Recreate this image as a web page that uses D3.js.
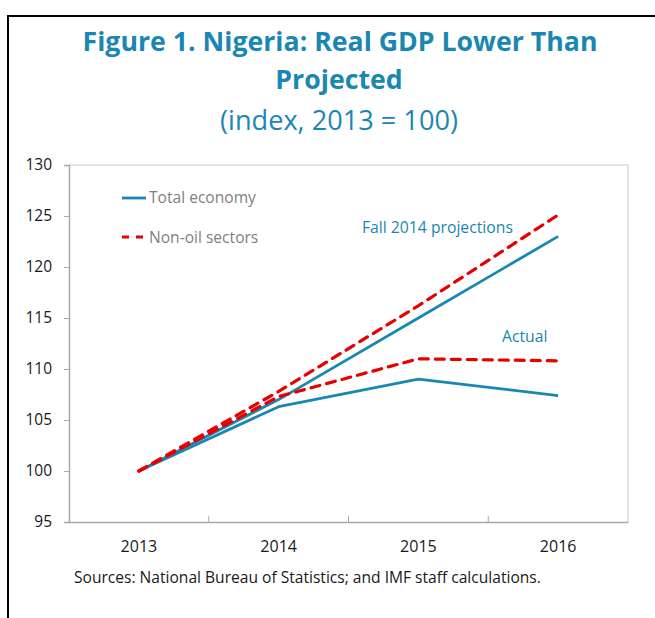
<!DOCTYPE html>
<html><head><meta charset="utf-8">
<script src="https://cdn.jsdelivr.net/npm/d3@7"></script>
<style>body{margin:0;background:#fff}svg{display:block}text{font-family:"Open Sans","Noto Sans",sans-serif}</style>
</head><body>
<svg id="c" width="655" height="618"></svg>
<script>
const years = ["2013","2014","2015","2016"];
const totalProjected = [100, 107.0, 115.0, 123.0];
const totalActual = [100, 106.3, 109.0, 107.4];
const nonOilProjected = [100, 107.8, 116.2, 125.1];
const nonOilActual = [100, 107.3, 111.0, 110.8];
const yTicks = [95,100,105,110,115,120,125,130];

const teal = "#1a87b3", red = "#e60000";
const svg = d3.select("#c");
const L=69, R=628, T=165, B=522;

// outer frame
svg.append("line").attr("x1",8).attr("x2",8).attr("y1",15).attr("y2",618).attr("stroke","#000").attr("stroke-width",2);
svg.append("line").attr("x1",7).attr("x2",655).attr("y1",16).attr("y2",16).attr("stroke","#000").attr("stroke-width",2);

function fit(sel, w){ const n=sel.node(); const cur=n.getComputedTextLength(); const fs=parseFloat(sel.attr("font-size")); sel.attr("font-size", fs*w/cur); }

const t1 = svg.append("text").attr("x",340).attr("y",51).attr("text-anchor","middle").attr("font-size",27).attr("font-weight","bold").attr("fill",teal).text("Figure 1. Nigeria: Real GDP Lower Than");
fit(t1,515);
const t2 = svg.append("text").attr("x",339).attr("y",89).attr("text-anchor","middle").attr("font-size",t1.attr("font-size")).attr("font-weight","bold").attr("fill",teal).text("Projected");
const t3 = svg.append("text").attr("x",339).attr("y",130).attr("text-anchor","middle").attr("font-size",26).attr("fill",teal).text("(index, 2013 = 100)");
fit(t3,238);

const x = d3.scaleBand().domain(years).range([L,R]);
const y = d3.scaleLinear().domain([95,130]).range([B,T]);

// frame
svg.append("line").attr("x1",L).attr("x2",R).attr("y1",T).attr("y2",T).attr("stroke","#c8c8c8");
svg.append("line").attr("x1",R).attr("x2",R).attr("y1",T).attr("y2",B).attr("stroke","#c8c8c8");

// y axis
const ya = svg.append("g").attr("transform",`translate(${L},0)`).call(d3.axisLeft(y).tickValues(yTicks).tickSize(5).tickPadding(12));
ya.select(".domain").attr("stroke","#a9a9a9").attr("stroke-width",1.5);
ya.selectAll(".tick line").attr("stroke","#a9a9a9");
ya.selectAll("text").attr("font-size",15.5).attr("fill","#1a1a1a").attr("font-family","'Open Sans',sans-serif");

// x axis
const xa = svg.append("g").attr("transform",`translate(0,${B})`).call(d3.axisBottom(x).tickSize(0).tickPadding(19));
xa.select(".domain").attr("stroke","#a9a9a9").attr("stroke-width",1.5);
xa.selectAll("text").attr("font-size",16).attr("fill","#1a1a1a").attr("font-family","'Open Sans',sans-serif");
// boundary ticks between categories (inward)
svg.append("g").selectAll("line").data(years.slice(1)).join("line")
  .attr("x1",d=>x(d)).attr("x2",d=>x(d)).attr("y1",B).attr("y2",B-6).attr("stroke","#a9a9a9");

const line = d3.line().x((d,i)=>x(years[i])+x.bandwidth()/2).y(d=>y(d));
function drawSolid(data){ svg.append("path").datum(data).attr("d",line).attr("fill","none").attr("stroke",teal).attr("stroke-width",2.8).attr("stroke-linejoin","round"); }
function drawDash(data){ svg.append("path").datum(data).attr("d",line).attr("fill","none").attr("stroke",red).attr("stroke-width",3.2).attr("stroke-dasharray","9,7").attr("stroke-linecap","round"); }
drawSolid(totalActual);
drawSolid(totalProjected);
drawDash(nonOilActual);
drawDash(nonOilProjected);

// legend
svg.append("line").attr("x1",122).attr("x2",146).attr("y1",198).attr("y2",198).attr("stroke",teal).attr("stroke-width",2.8);
const l1 = svg.append("text").attr("x",149).attr("y",203).attr("font-size",15).attr("fill","#7f7f7f").text("Total economy");
fit(l1,107);
svg.append("line").attr("x1",122).attr("x2",146).attr("y1",237).attr("y2",237).attr("stroke",red).attr("stroke-width",3).attr("stroke-dasharray","7,7");
svg.append("text").attr("x",149).attr("y",243).attr("font-size",l1.attr("font-size")).attr("fill","#7f7f7f").text("Non-oil sectors");

// annotations
const a1 = svg.append("text").attr("x",362).attr("y",233).attr("font-size",15).attr("fill",teal).text("Fall 2014 projections");
fit(a1,151);
svg.append("text").attr("x",502).attr("y",342).attr("font-size",a1.attr("font-size")).attr("fill",teal).text("Actual");

const s = svg.append("text").attr("x",74).attr("y",583).attr("font-size",14).attr("fill","#1a1a1a").text("Sources: National Bureau of Statistics; and IMF staff calculations.");
fit(s,467);
</script>
</body></html>
